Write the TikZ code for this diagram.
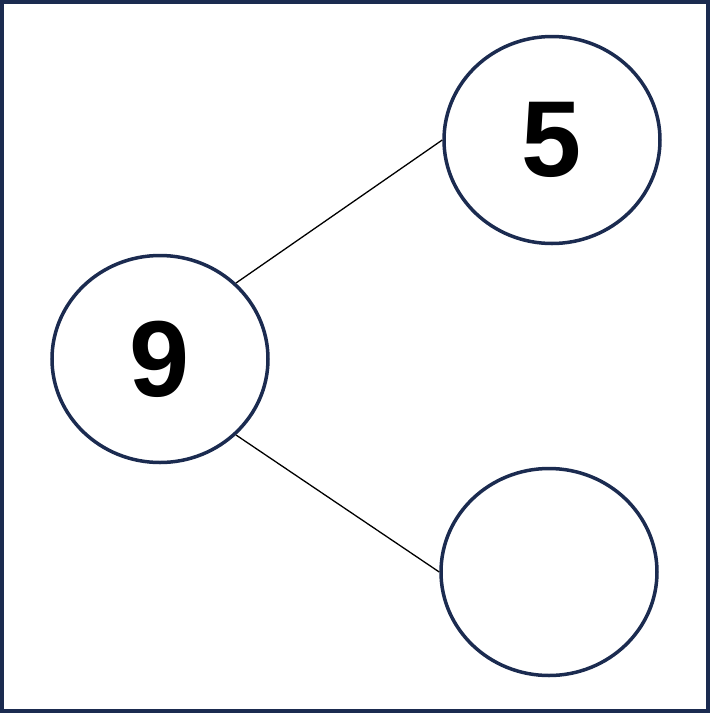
\documentclass[tikz,border=0pt]{standalone}
\usepackage{fontspec}
\setmainfont{Liberation Sans}
\usetikzlibrary{shapes.geometric}
\definecolor{navy}{HTML}{1B2B50}
\begin{document}
\begin{tikzpicture}[x=1pt,y=-1pt,
  bub/.style={ellipse,draw=navy,line width=3.5pt,minimum width=216pt,minimum height=207pt,inner sep=0pt,
    font=\fontsize{108}{108}\selectfont\bfseries},
  link/.style={draw=black,line width=1.3pt}]
\useasboundingbox (0,0) rectangle (710,713);
\draw[navy,line width=4pt] (2,2) rectangle (708,711);
\node[bub] (a) at (160,359) {9};
\node[bub] (b) at (552,140) {5};
\node[bub] (c) at (549,572) {};
\draw[link] (a.45) -- (b.west);
\draw[link] (a.-45) -- (c.west);
\end{tikzpicture}
\end{document}
